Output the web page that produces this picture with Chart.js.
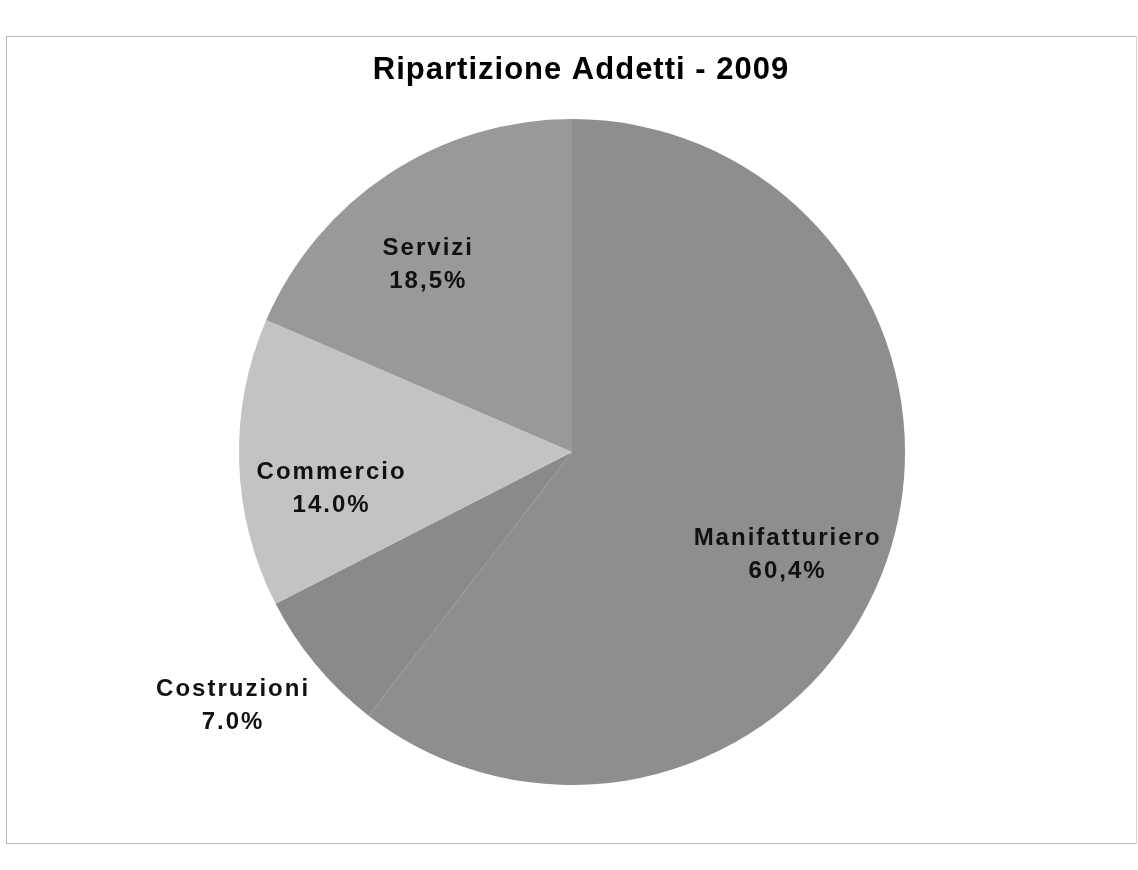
<!DOCTYPE html>
<html>
<head>
<meta charset="utf-8">
<script src="https://cdn.jsdelivr.net/npm/chart.js@4/dist/chart.umd.min.js"></script>
<style>
    html, body { margin: 0; padding: 0; background: #fff; }
    #wrap { position: relative; width: 1138px; height: 870px; }
    #frame { position: absolute; left: 6px; top: 36px; width: 1129px; height: 806px;
             border: 1px solid #b8b8b8; border-right-color: #d8d8d8; }
    canvas { position: absolute; left: 0; top: 0; }
</style>
</head>
<body>
<div id="wrap">
    <div id="frame"></div>
    <canvas id="myChart" width="1138" height="870"></canvas>
</div>
<script>
// dati del grafico
var chartTitle = 'Ripartizione Addetti - 2009';
var categories = ['Manifatturiero', 'Costruzioni', 'Commercio', 'Servizi'];
var values = [60.4, 7.0, 14.0, 18.5];
var valueTexts = ['60,4%', '7.0%', '14.0%', '18,5%'];
var sliceColors = ['#8e8e8e', '#8a8a8a', '#c3c3c3', '#999999'];

// posizione etichette: frazione del raggio e spostamento in gradi
var labelPlace = [[0.717, 6.6], [1.27, 3], [0.73, -6.6], [0.71, -4.1]];

var pieLabels = {
    id: 'pieLabels',
    afterDatasetsDraw: function(chart) {
        var ctx = chart.ctx;
        var meta = chart.getDatasetMeta(0);
        ctx.save();
        ctx.textAlign = 'center';
        ctx.textBaseline = 'middle';

        // titolo
        ctx.fillStyle = '#000';
        ctx.font = 'bold 31px "Liberation Sans", Arial, sans-serif';
        ctx.letterSpacing = '1px';
        ctx.fillText(chartTitle, 581, 70);

        ctx.fillStyle = '#111';
        ctx.font = 'bold 24px "Liberation Sans", Arial, sans-serif';
        ctx.letterSpacing = '2px';
        meta.data.forEach(function(arc, i) {
            var mid = (arc.startAngle + arc.endAngle) / 2 + labelPlace[i][1] * Math.PI / 180;
            var r = arc.outerRadius * labelPlace[i][0];
            var x = arc.x + Math.cos(mid) * r;
            var y = arc.y + Math.sin(mid) * r;
            ctx.fillText(categories[i], x, y - 16);
            ctx.fillText(valueTexts[i], x, y + 17);
        });
        ctx.restore();
    }
};

var ctx = document.getElementById('myChart').getContext('2d');
var myChart = new Chart(ctx, {
    type: 'pie',
    data: {
        labels: categories,
        datasets: [{
            data: values,
            backgroundColor: sliceColors,
            borderWidth: 0
        }]
    },
    options: {
        responsive: false,
        animation: false,
        layout: { padding: { top: 119, bottom: 85, left: 6, right: 0 } },
        plugins: {
            legend: { display: false },
            tooltip: { enabled: false },
            title: { display: false }
        }
    },
    plugins: [pieLabels]
});
</script>
</body>
</html>
